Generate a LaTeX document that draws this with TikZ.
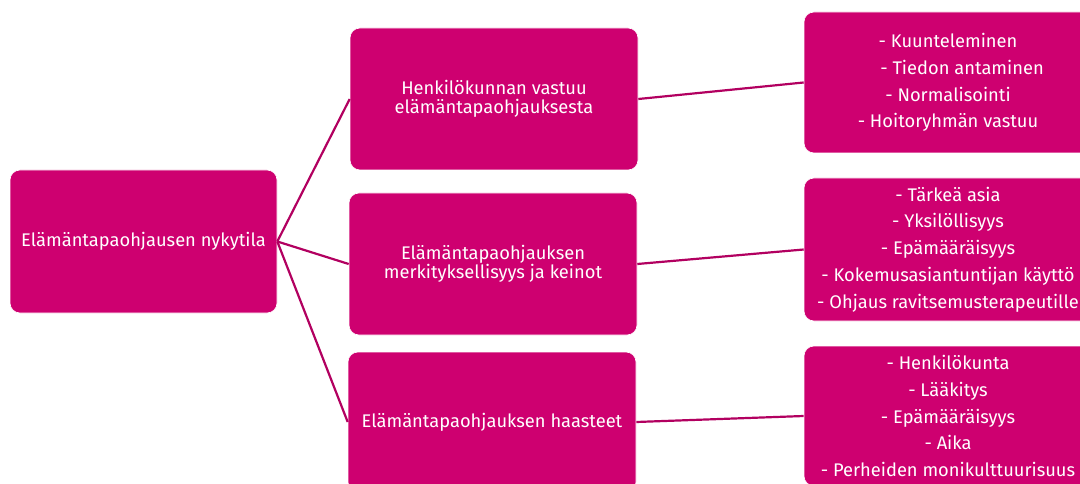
\documentclass[tikz,border=0pt]{standalone}
\usepackage{fontspec}
\setmainfont{Fira Sans}
\definecolor{boxfill}{RGB}{206,0,112}
\definecolor{linkcol}{RGB}{178,0,96}
\begin{document}
\begin{tikzpicture}[x=1pt,y=-1pt,
  card/.style={draw=white, line width=0.6pt, fill=boxfill, rounded corners=10pt,
    text=white, align=center, inner sep=0pt, anchor=center},
  rootcard/.style={card, minimum width=267pt, minimum height=143pt,
    font=\fontsize{18.3}{19}\selectfont},
  midcard/.style={card, minimum width=288pt, minimum height=142pt,
    font=\fontsize{18.3}{19}\selectfont},
  listcard/.style={card, minimum width=288pt, minimum height=142pt,
    font=\fontsize{18.3}{26.7}\selectfont},
  link/.style={draw=linkcol, line width=2.2pt}]
\useasboundingbox (0,0) rectangle (1080,484);
\clip (0,0) rectangle (1080,484);

% root topic
\node[rootcard] (root) at (143.5,241.5) {Elämäntapaohjausen nykytila};

% second level
\node[midcard] (m1) at (494,99) {Henkilökunnan vastuu\\elämäntapaohjauksesta};
\node[midcard] (m2) at (493,264) {Elämäntapaohjauksen\\merkityksellisyys ja keinot};
\node[midcard, minimum height=140pt] (m3) at (492,422) {Elämäntapaohjauksen haasteet};

% third level lists
\node[listcard, minimum height=141pt] (r1) at (948,82.5)
  {- Kuunteleminen\\\hspace*{28pt}- Tiedon antaminen\\- Normalisointi\\- Hoitoryhmän vastuu};
\node[listcard, minimum height=143pt] (r2) at (948,249.5)
  {- Tärkeä asia\\- Yksilöllisyys\\- Epämääräisyys\\- Kokemusasiantuntijan käyttö\\- Ohjaus ravitsemusterapeutille};
\node[listcard, minimum height=140pt] (r3) at (948,416)
  {- Henkilökunta\\- Lääkitys\\- Epämääräisyys\\- Aika\\- Perheiden monikulttuurisuus};

% connectors
\draw[link] (root.east) -- (m1.west);
\draw[link] (root.east) -- (m2.west);
\draw[link] (root.east) -- (m3.west);
\draw[link] (m1.east) -- (r1.west);
\draw[link] (m2.east) -- (r2.west);
\draw[link] (m3.east) -- (r3.west);
\end{tikzpicture}
\end{document}
